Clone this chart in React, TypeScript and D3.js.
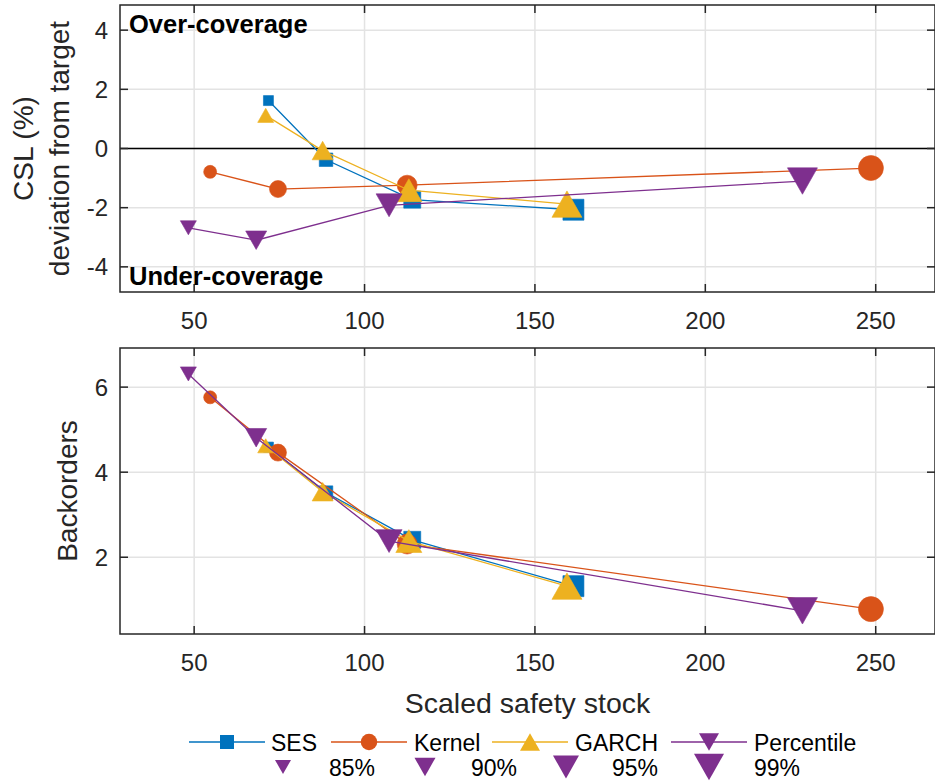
import React, { useEffect, useRef } from 'react';
import * as d3 from 'd3';

// service levels (marker size grows with level)
const levels = ['85%', '90%', '95%', '99%'];

const sesSS = [71.8, 88.7, 114.0, 161.3];
const sesCSL = [1.62, -0.38, -1.73, -2.07];
const sesBO = [4.59, 3.52, 2.41, 1.32];

const kernelSS = [54.7, 74.6, 112.5, 248.6];
const kernelCSL = [-0.79, -1.37, -1.24, -0.66];
const kernelBO = [5.76, 4.46, 2.31, 0.78];

const garchSS = [71.0, 87.7, 113.0, 159.4];
const garchCSL = [1.12, -0.07, -1.41, -1.88];
const garchBO = [4.62, 3.54, 2.38, 1.32];

const pctSS = [48.3, 68.2, 107.2, 228.5];
const pctCSL = [-2.68, -3.1, -1.92, -1.1];
const pctBO = [6.31, 4.81, 2.38, 0.74];

const xTicks = [50, 100, 150, 200, 250];
const cslTicks = [-4, -2, 0, 2, 4];
const boTicks = [2, 4, 6];

const FONT = '"Liberation Sans", Arial, Helvetica, sans-serif';
const TXT = '#262626';

const series = [
  { name: 'SES', color: '#0072BD', shape: 'square', ss: sesSS, csl: sesCSL, bo: sesBO },
  { name: 'Kernel', color: '#D95319', shape: 'circle', ss: kernelSS, csl: kernelCSL, bo: kernelBO },
  { name: 'GARCH', color: '#EDB120', shape: 'up', ss: garchSS, csl: garchCSL, bo: garchBO },
  { name: 'Percentile', color: '#7E2F8E', shape: 'down', ss: pctSS, csl: pctCSL, bo: pctBO },
];

// pixel size of each marker by level index
const sizeByShape: Record<string, number[]> = {
  square: [10, 13.5, 17, 21],
  circle: [13, 17, 20, 25],
  up: [16, 21, 26, 30],
  down: [16, 21, 26, 30],
};

function markerPath(shape: string, s: number) {
  const h = s / 2;
  if (shape === 'square') return `M${-h},${-h}H${h}V${h}H${-h}Z`;
  if (shape === 'circle') return `M${-h},0A${h},${h} 0 1,0 ${h},0A${h},${h} 0 1,0 ${-h},0Z`;
  const t = s * 0.44;
  if (shape === 'up') return `M0,${-t}L${h},${t}L${-h},${t}Z`;
  return `M0,${t}L${h},${-t}L${-h},${-t}Z`;
}

const App = () => {
  const ref = useRef<SVGSVGElement>(null);

  useEffect(() => {
    const svg = d3.select(ref.current);
    svg.selectAll('*').remove();

    const left = 120, right = 935;
    const x = d3.scaleLinear().domain([28.24, 267.4]).range([left, right]);

    const panels = [
      { key: 'csl', top: 5, bottom: 292, domain: [-4.85, 4.85], ticks: cslTicks },
      { key: 'bo', top: 348, bottom: 634, domain: [0.195, 6.92], ticks: boTicks },
    ];

    panels.forEach((p) => {
      const y = d3.scaleLinear().domain(p.domain).range([p.bottom, p.top]);
      const g = svg.append('g');

      // grid
      g.selectAll('.gx').data(xTicks).enter().append('line')
        .attr('x1', (d) => x(d)).attr('x2', (d) => x(d))
        .attr('y1', p.top).attr('y2', p.bottom)
        .attr('stroke', '#e3e3e3').attr('stroke-width', 1.5);
      g.selectAll('.gy').data(p.ticks).enter().append('line')
        .attr('x1', left).attr('x2', right)
        .attr('y1', (d) => y(d)).attr('y2', (d) => y(d))
        .attr('stroke', '#e3e3e3').attr('stroke-width', 1.5);

      if (p.key === 'csl') {
        g.append('line').attr('x1', left).attr('x2', right)
          .attr('y1', y(0)).attr('y2', y(0))
          .attr('stroke', '#000').attr('stroke-width', 1.5);
      }

      // data
      series.forEach((s) => {
        const vals = p.key === 'csl' ? s.csl : s.bo;
        const pts = s.ss.map((v, i) => [x(v), y(vals[i])] as [number, number]);
        g.append('path')
          .attr('d', d3.line()(pts))
          .attr('fill', 'none').attr('stroke', s.color).attr('stroke-width', 1.3);
        g.selectAll(null).data(pts).enter().append('path')
          .attr('transform', (d) => `translate(${d[0]},${d[1]})`)
          .attr('d', (d, i) => markerPath(s.shape, sizeByShape[s.shape][i]))
          .attr('fill', s.color).attr('stroke', s.color).attr('stroke-width', 0.6);
      });

      // box
      g.append('rect').attr('x', left).attr('y', p.top)
        .attr('width', right - left).attr('height', p.bottom - p.top)
        .attr('fill', 'none').attr('stroke', TXT).attr('stroke-width', 1.5);

      // ticks (inside, both sides)
      const tl = 8;
      xTicks.forEach((t) => {
        g.append('line').attr('x1', x(t)).attr('x2', x(t)).attr('y1', p.bottom).attr('y2', p.bottom - tl)
          .attr('stroke', TXT).attr('stroke-width', 1.5);
        g.append('line').attr('x1', x(t)).attr('x2', x(t)).attr('y1', p.top).attr('y2', p.top + tl)
          .attr('stroke', TXT).attr('stroke-width', 1.5);
        g.append('text').attr('x', x(t)).attr('y', p.bottom + 37)
          .attr('text-anchor', 'middle').attr('font-family', FONT).attr('font-size', 24)
          .attr('fill', TXT).text(t);
      });
      p.ticks.forEach((t) => {
        g.append('line').attr('x1', left).attr('x2', left + tl).attr('y1', y(t)).attr('y2', y(t))
          .attr('stroke', TXT).attr('stroke-width', 1.5);
        g.append('line').attr('x1', right).attr('x2', right - tl).attr('y1', y(t)).attr('y2', y(t))
          .attr('stroke', TXT).attr('stroke-width', 1.5);
        g.append('text').attr('x', 108).attr('y', y(t) + 8.5)
          .attr('text-anchor', 'end').attr('font-family', FONT).attr('font-size', 24)
          .attr('fill', TXT).text(t);
      });

      if (p.key === 'csl') {
        g.append('text').attr('x', 129).attr('y', 33).attr('font-family', FONT)
          .attr('font-weight', 'bold').attr('font-size', 25.5).attr('fill', '#000').text('Over-coverage');
        g.append('text').attr('x', 129).attr('y', 285).attr('font-family', FONT)
          .attr('font-weight', 'bold').attr('font-size', 25.5).attr('fill', '#000').text('Under-coverage');
        g.append('text').attr('transform', `translate(33,${(p.top + p.bottom) / 2}) rotate(-90)`)
          .attr('text-anchor', 'middle').attr('font-family', FONT).attr('font-size', 28)
          .attr('fill', TXT).text('CSL (%)');
        g.append('text').attr('transform', `translate(69,${(p.top + p.bottom) / 2}) rotate(-90)`)
          .attr('text-anchor', 'middle').attr('font-family', FONT).attr('font-size', 28)
          .attr('fill', TXT).text('deviation from target');
      } else {
        g.append('text').attr('transform', `translate(77,${(p.top + p.bottom) / 2}) rotate(-90)`)
          .attr('text-anchor', 'middle').attr('font-family', FONT).attr('font-size', 28)
          .attr('fill', TXT).text('Backorders');
        g.append('text').attr('x', (left + right) / 2).attr('y', 713)
          .attr('text-anchor', 'middle').attr('font-family', FONT).attr('font-size', 28.5)
          .attr('fill', TXT).text('Scaled safety stock');
      }
    });

    // legend: series row, then level row
    const leg = svg.append('g');
    const lineX = [189, 331, 492, 671];
    const textX = [271, 414, 575, 754];
    const legSize: Record<string, number> = { square: 14, circle: 16.5, up: 20, down: 20 };
    series.forEach((s, i) => {
      const x0 = lineX[i], yy = 742;
      leg.append('line').attr('x1', x0).attr('x2', x0 + 76).attr('y1', yy).attr('y2', yy)
        .attr('stroke', s.color).attr('stroke-width', 1.3);
      leg.append('path').attr('transform', `translate(${x0 + 38},${yy})`)
        .attr('d', markerPath(s.shape, legSize[s.shape])).attr('fill', s.color);
      leg.append('text').attr('x', textX[i]).attr('y', yy + 8.5).attr('font-family', FONT)
        .attr('font-size', 23).attr('fill', '#000').text(s.name);
    });
    const lvlMarkX = [283, 425, 566, 709];
    const lvlTextX = [329, 471, 612, 754];
    levels.forEach((l, i) => {
      const yy = 767;
      leg.append('path').attr('transform', `translate(${lvlMarkX[i]},${yy})`)
        .attr('d', markerPath('down', sizeByShape.down[i])).attr('fill', '#7E2F8E');
      leg.append('text').attr('x', lvlTextX[i]).attr('y', yy + 8.5).attr('font-family', FONT)
        .attr('font-size', 23).attr('fill', '#000').text(l);
    });
  }, []);

  return (
    <svg ref={ref} width={935} height={781}
      style={{ position: 'absolute', left: 0, top: 0, background: '#fff' }} />
  );
};

export default App;
